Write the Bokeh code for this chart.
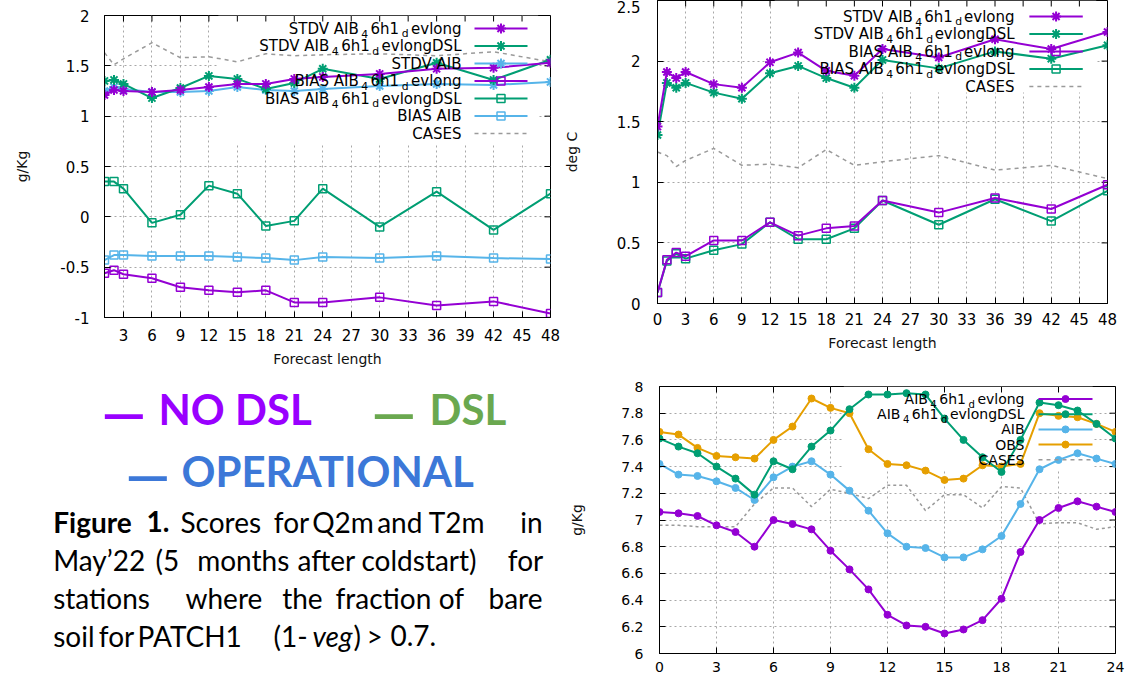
from bokeh.plotting import figure
from bokeh.models import Range1d, FixedTicker, BoxAnnotation, Label, PrintfTickFormatter
from bokeh.layouts import row, column
from bokeh.embed import file_html
from bokeh.resources import INLINE

# ---------------------------------------------------------------- data
# Q2m scores (g/Kg) against forecast length
q_hours = [1, 2, 3, 6, 9, 12, 15, 18, 21, 24, 30, 36, 42, 48]
q_stdv_nodsl = [1.21, 1.26, 1.25, 1.24, 1.26, 1.29, 1.32, 1.32, 1.37, 1.39, 1.42, 1.47, 1.48, 1.53]
q_stdv_dsl = [1.35, 1.36, 1.32, 1.18, 1.28, 1.40, 1.37, 1.27, 1.33, 1.47, 1.37, 1.53, 1.36, 1.56]
q_stdv_oper = [1.25, 1.29, 1.27, 1.24, 1.24, 1.25, 1.29, 1.26, 1.25, 1.27, 1.30, 1.32, 1.31, 1.34]
q_bias_nodsl = [-0.56, -0.53, -0.57, -0.61, -0.70, -0.73, -0.75, -0.73, -0.85, -0.85, -0.80, -0.88, -0.84, -0.96]
q_bias_dsl = [0.35, 0.35, 0.28, -0.06, 0.02, 0.31, 0.23, -0.09, -0.04, 0.28, -0.10, 0.25, -0.13, 0.23]
q_bias_oper = [-0.43, -0.38, -0.38, -0.39, -0.39, -0.39, -0.40, -0.41, -0.43, -0.40, -0.41, -0.39, -0.41, -0.42]
q_cases = [1.63, 1.51, 1.57, 1.73, 1.58, 1.59, 1.54, 1.62, 1.60, 1.61, 1.62, 1.60, 1.64, 1.54]

# T2m scores (deg C) against forecast length
t_hours = [0, 1, 2, 3, 6, 9, 12, 15, 18, 21, 24, 30, 36, 42, 48]
t_stdv_nodsl = [1.46, 1.91, 1.86, 1.91, 1.81, 1.78, 1.99, 2.07, 1.92, 1.88, 2.10, 2.03, 2.18, 2.10, 2.24]
t_stdv_dsl = [1.39, 1.82, 1.78, 1.82, 1.74, 1.69, 1.90, 1.96, 1.86, 1.78, 2.01, 1.94, 2.08, 2.02, 2.13]
t_bias_nodsl = [0.09, 0.36, 0.42, 0.39, 0.52, 0.52, 0.67, 0.56, 0.62, 0.64, 0.85, 0.75, 0.87, 0.78, 0.98]
t_bias_dsl = [0.09, 0.35, 0.41, 0.37, 0.44, 0.49, 0.67, 0.53, 0.53, 0.62, 0.85, 0.65, 0.86, 0.68, 0.93]
t_cases = [1.25, 1.22, 1.13, 1.18, 1.28, 1.14, 1.15, 1.12, 1.27, 1.14, 1.17, 1.22, 1.10, 1.14, 1.03]

# Daily cycle of Q2m (g/Kg)
d_hours = [0, 1, 2, 3, 4, 5, 6, 7, 8, 9, 10, 11, 12, 13, 14, 15, 16, 17, 18, 19, 20, 21, 22, 23, 24]
d_nodsl = [7.06, 7.05, 7.03, 6.96, 6.91, 6.80, 7.00, 6.97, 6.93, 6.77, 6.63, 6.48, 6.29,
           6.21, 6.20, 6.15, 6.18, 6.25, 6.41, 6.76, 7.00, 7.09, 7.14, 7.10, 7.06]
d_dsl = [7.61, 7.55, 7.50, 7.40, 7.31, 7.19, 7.44, 7.38, 7.55, 7.67, 7.83, 7.94, 7.94,
         7.95, 7.94, 7.76, 7.60, 7.47, 7.36, 7.60, 7.88, 7.86, 7.82, 7.72, 7.61]
d_oper = [7.42, 7.34, 7.33, 7.29, 7.24, 7.15, 7.32, 7.40, 7.44, 7.34, 7.22, 7.07, 6.90,
          6.80, 6.79, 6.72, 6.72, 6.78, 6.88, 7.12, 7.38, 7.45, 7.50, 7.46, 7.42]
d_obs = [7.66, 7.64, 7.54, 7.48, 7.47, 7.46, 7.60, 7.70, 7.91, 7.84, 7.80, 7.53, 7.42,
         7.41, 7.37, 7.30, 7.31, 7.41, 7.40, 7.42, 7.80, 7.78, 7.77, 7.72, 7.66]
d_cases = [6.96, 6.96, 6.95, 6.95, 6.95, 7.12, 7.24, 7.24, 7.10, 7.23, 7.20, 7.16, 7.26,
           7.26, 7.07, 7.19, 7.19, 7.09, 7.25, 7.24, 6.97, 6.98, 6.98, 6.93, 6.95]

q_xticks = [3, 6, 9, 12, 15, 18, 21, 24, 27, 30, 33, 36, 39, 42, 45, 48]
t_xticks = [0, 3, 6, 9, 12, 15, 18, 21, 24, 27, 30, 33, 36, 39, 42, 45, 48]
d_xticks = [0, 3, 6, 9, 12, 15, 18, 21, 24]
q_yticks = [-1, -0.5, 0, 0.5, 1, 1.5, 2]
t_yticks = [0, 0.5, 1, 1.5, 2, 2.5]
d_yticks = [6, 6.2, 6.4, 6.6, 6.8, 7, 7.2, 7.4, 7.6, 7.8, 8]

# ---------------------------------------------------------------- style
PURPLE = "#9400D3"
GREEN = "#009E73"
SKY = "#56B4E9"
ORANGE = "#E69F00"
CASES_C = "#9a9a9a"
FONT = "DejaVu Sans"
TICK_LEN = 6

# approximate DejaVu Sans advance widths (em) for key layout
DV = {" ": 0.318, "A": 0.684, "B": 0.686, "C": 0.698, "D": 0.770, "E": 0.632, "I": 0.295,
      "L": 0.557, "O": 0.787, "S": 0.635, "T": 0.611, "V": 0.684, "a": 0.613, "d": 0.635,
      "e": 0.615, "g": 0.635, "h": 0.634, "l": 0.278, "n": 0.634, "o": 0.612, "v": 0.592}


def text_w(s, px):
    return sum(DV.get(c, 0.636) for c in s) * px


def scales(width, height, xr, yr, border):
    left, right, top, bottom = border
    fx = (xr[1] - xr[0]) / (width - left - right)
    fy = (yr[1] - yr[0]) / (height - top - bottom)
    return fx, fy


def chart(width, height, xr, yr, border, xticks, yticks, tick_px, xlabel, ylabel,
          x_std, y_std, x_lab_std, y_lab_std):
    left, right, top, bottom = border
    p = figure(width=width, height=height, x_range=Range1d(*xr), y_range=Range1d(*yr),
               title=None, toolbar_location=None, output_backend="svg", frame_align=False,
               min_border_left=left, min_border_right=right,
               min_border_top=top, min_border_bottom=bottom)
    p.outline_line_color = "black"
    p.outline_line_width = 1
    p.outline_line_alpha = 1
    p.xaxis.ticker = FixedTicker(ticks=xticks)
    p.yaxis.ticker = FixedTicker(ticks=yticks)
    for ax, std, lstd, lab in ((p.xaxis[0], x_std, x_lab_std, xlabel),
                               (p.yaxis[0], y_std, y_lab_std, ylabel)):
        ax.formatter = PrintfTickFormatter(format="%g")
        ax.major_tick_in = TICK_LEN
        ax.major_tick_out = 0
        ax.minor_tick_in = 0
        ax.minor_tick_out = 0
        ax.axis_line_color = "black"
        ax.major_tick_line_color = "black"
        ax.major_label_text_font = FONT
        ax.major_label_text_font_size = tick_px
        ax.major_label_text_color = "black"
        ax.major_label_standoff = std
        if lab:
            ax.axis_label = lab
            ax.axis_label_text_font = FONT
            ax.axis_label_text_font_style = "normal"
            ax.axis_label_text_font_size = "14px"
            ax.axis_label_text_color = "#111111"
            ax.axis_label_standoff = lstd
    p.grid.grid_line_color = "#a8a8a8"
    p.grid.grid_line_dash = "2 3"
    p.grid.grid_line_width = 1
    # mirrored tick marks on the top and right borders
    fx, fy = scales(width, height, xr, yr, border)
    p.segment(xticks, [yr[1]] * len(xticks), xticks, [yr[1] - TICK_LEN * fy] * len(xticks),
              line_color="black", line_width=1)
    p.segment([xr[1]] * len(yticks), yticks, [xr[1] - TICK_LEN * fx] * len(yticks), yticks,
              line_color="black", line_width=1)
    return p


def draw_marker(p, xs, ys, color, marker):
    if marker == "asterisk":
        p.scatter(xs, ys, marker="asterisk", size=10, line_color=color, line_width=2)
    elif marker == "square":
        p.scatter(xs, ys, marker="square", size=8, line_color=color, line_width=1.5,
                  fill_alpha=0)
    else:
        p.scatter(xs, ys, marker="circle", size=7, line_color=color, fill_color=color)


def key_block(p, geom, entries, px):
    """Right-aligned key with sample line and marker on its right."""
    fx, fy, xr, yr, tx, ty, dy, lx0, lx1 = geom
    x_right = xr[0] + tx * fx
    x0 = xr[0] + lx0 * fx
    x1 = xr[0] + lx1 * fx
    xm = (x0 + x1) / 2
    sub_px = px * 0.72
    for i, (pieces, color, marker, dashed) in enumerate(entries):
        y = yr[1] - (ty + i * dy) * fy
        x = x_right
        for txt, sub in reversed(pieces):
            size = sub_px if sub else px
            if sub:
                x -= 2.5 * fx
            yy = y - 0.36 * px * fy if sub else y
            p.add_layout(Label(x=x, y=yy, text=txt, text_align="right", text_baseline="middle",
                               text_font=FONT, text_font_size=f"{size:.1f}px", text_color="black"))
            x -= text_w(txt, size) * fx + (2.5 * fx if sub else 0)
        if dashed:
            p.line([x0, x1], [y, y], line_color=CASES_C, line_width=1.5, line_dash="4 4")
        else:
            p.line([x0, x1], [y, y], line_color=color, line_width=2)
            draw_marker(p, [xm], [y], color, marker)


def series(p, xs, ys, color, marker):
    p.line(xs, ys, line_color=color, line_width=2)
    draw_marker(p, xs, ys, color, marker)


def cases(p, xs, ys, dash):
    p.line(xs, ys, line_color=CASES_C, line_width=1.5, line_dash=dash)


def name(prefix, suffix=""):
    lead = (prefix + " AIB") if prefix else "AIB"
    return [(lead, False), ("4", True), ("6h1", False), ("d", True), ("evlong" + suffix, False)]


LEFT_W = 560
RIGHT_W = 1126 - LEFT_W

# ---------------------------------------------------------------- Q2m scores
q_w, q_h = LEFT_W, 370
q_xr, q_yr = (1, 48), (-1, 2)
q_b = (104, 10, 15, 53)
pq = chart(q_w, q_h, q_xr, q_yr, q_b, q_xticks, q_yticks, "15px",
           "Forecast length", "g/Kg", 11, 15, 7, 27)
pq.add_layout(BoxAnnotation(left=13, right=46.7, bottom=0.72, top=2, fill_color="white",
                            fill_alpha=1, line_alpha=0, level="underlay"))
cases(pq, q_hours, q_cases, "4 4")
series(pq, q_hours, q_bias_oper, SKY, "square")
series(pq, q_hours, q_bias_dsl, GREEN, "square")
series(pq, q_hours, q_bias_nodsl, PURPLE, "square")
series(pq, q_hours, q_stdv_oper, SKY, "asterisk")
series(pq, q_hours, q_stdv_dsl, GREEN, "asterisk")
series(pq, q_hours, q_stdv_nodsl, PURPLE, "asterisk")
fx, fy = scales(q_w, q_h, q_xr, q_yr, q_b)
key_block(pq, (fx, fy, q_xr, q_yr, 357, 13, 17.5, 370, 423), [
    (name("STDV"), PURPLE, "asterisk", False),
    (name("STDV", "DSL"), GREEN, "asterisk", False),
    ([("STDV AIB", False)], SKY, "asterisk", False),
    (name("BIAS"), PURPLE, "square", False),
    (name("BIAS", "DSL"), GREEN, "square", False),
    ([("BIAS AIB", False)], SKY, "square", False),
    ([("CASES", False)], CASES_C, None, True),
], 15)

# ---------------------------------------------------------------- T2m scores
t_w, t_h = RIGHT_W, 365
t_xr, t_yr = (0, 48), (0, 2.5)
t_b = (92, 19, 0, 62)
pt = chart(t_w, t_h, t_xr, t_yr, t_b, t_xticks, t_yticks, "15px",
           "Forecast length", "deg C", 9, 17, 7, 34)
pt.add_layout(BoxAnnotation(left=12.5, right=46.8, bottom=1.74, top=2.5, fill_color="white",
                            fill_alpha=1, line_alpha=0, level="underlay"))
cases(pt, t_hours, t_cases, "4 4")
series(pt, t_hours, t_bias_dsl, GREEN, "square")
series(pt, t_hours, t_bias_nodsl, PURPLE, "square")
series(pt, t_hours, t_stdv_dsl, GREEN, "asterisk")
series(pt, t_hours, t_stdv_nodsl, PURPLE, "asterisk")
fx, fy = scales(t_w, t_h, t_xr, t_yr, t_b)
key_block(pt, (fx, fy, t_xr, t_yr, 361, 16, 17.5, 376, 430), [
    (name("STDV"), PURPLE, "asterisk", False),
    (name("STDV", "DSL"), GREEN, "asterisk", False),
    (name("BIAS"), PURPLE, "square", False),
    (name("BIAS", "DSL"), GREEN, "square", False),
    ([("CASES", False)], CASES_C, None, True),
], 15)

# ---------------------------------------------------------------- daily cycle
d_w, d_h = RIGHT_W, 310
d_xr, d_yr = (0, 24), (6, 8)
d_b = (99, 11, 21, 22)
pd_ = chart(d_w, d_h, d_xr, d_yr, d_b, d_xticks, d_yticks, "14px",
            None, "g/Kg", 8, 16, 7, 33)
pd_.add_layout(BoxAnnotation(left=9.7, right=22.8, bottom=7.37, top=8, fill_color="white",
                             fill_alpha=1, line_alpha=0, level="underlay"))
cases(pd_, d_hours, d_cases, "3 3")
series(pd_, d_hours, d_obs, ORANGE, "circle")
series(pd_, d_hours, d_oper, SKY, "circle")
series(pd_, d_hours, d_dsl, GREEN, "circle")
series(pd_, d_hours, d_nodsl, PURPLE, "circle")
fx, fy = scales(d_w, d_h, d_xr, d_yr, d_b)
key_block(pd_, (fx, fy, d_xr, d_yr, 365, 12.5, 15.2, 379, 433), [
    (name(""), PURPLE, "circle", False),
    (name("", "DSL"), GREEN, "circle", False),
    ([("AIB", False)], SKY, "circle", False),
    ([("OBS", False)], ORANGE, "circle", False),
    ([("CASES", False)], CASES_C, None, True),
], 14)

# ---------------------------------------------------------------- key and caption
cap = figure(width=LEFT_W, height=305, x_range=Range1d(0, LEFT_W), y_range=Range1d(675, 370),
             x_axis_type=None, y_axis_type=None, title=None, toolbar_location=None,
             output_backend="svg", min_border=0, frame_align=False)
cap.outline_line_color = None

# (text, x, baseline, colour, size)
key_words = [
    ("\u2014", 101, 411, "#9900FF", "56px"), ("NO DSL", 158, 408, "#9900FF", "42px"),
    ("\u2014", 371, 411, "#6AA84F", "56px"), ("DSL", 429, 408, "#6AA84F", "42px"),
    ("\u2014", 125, 473, "#3C78D8", "56px"), ("OPERATIONAL", 181, 470, "#3C78D8", "42px"),
]
for txt, x, y, c, s in key_words:
    cap.add_layout(Label(x=x, y=y, text=txt, text_font="Lato", text_font_style="bold",
                         text_font_size=s, text_color=c, text_baseline="alphabetic"))

# (word, x, baseline, style, align) -- justified paragraph laid out word by word
caption_words = [
    ("Figure", 52.7, 521, "bold", "left"), ("1.", 146, 521, "bold", "left"),
    ("Scores", 180, 521, "normal", "left"), ("for", 273.3, 521, "normal", "left"),
    ("Q2m", 311.7, 521, "normal", "left"), ("and", 376.7, 521, "normal", "left"),
    ("T2m", 428.3, 521, "normal", "left"), ("in", 542, 521, "normal", "right"),
    ("May\u201922", 52.7, 559, "normal", "left"), ("(5", 155, 559, "normal", "left"),
    ("months", 196.7, 559, "normal", "left"), ("after", 297, 559, "normal", "left"),
    ("coldstart)", 361, 559, "normal", "left"), ("for", 542.7, 559, "normal", "right"),
    ("stations", 52.7, 597, "normal", "left"), ("where", 185, 597, "normal", "left"),
    ("the", 281.7, 597, "normal", "left"), ("fraction", 335, 597, "normal", "left"),
    ("of", 438.3, 597, "normal", "left"), ("bare", 542, 597, "normal", "right"),
    ("soil", 52.7, 635, "normal", "left"), ("for", 98.3, 635, "normal", "left"),
    ("PATCH1", 137, 635, "normal", "left"), ("(1-", 273, 635, "normal", "left"),
    ("veg", 312, 635, "italic", "left"), (")", 353, 635, "normal", "left"),
    (">", 366, 635, "normal", "left"), ("0.7.", 390, 635, "normal", "left"),
]
for txt, x, y, style, align in caption_words:
    cap.add_layout(Label(x=x, y=y, text=txt, text_font="Lato", text_font_style=style,
                         text_font_size="28px", text_color="black", text_align=align,
                         text_baseline="alphabetic"))

layout = row(column(pq, cap), column(pt, pd_))
open("out.html", "w").write(file_html(layout, INLINE, "Q2m and T2m scores"))
